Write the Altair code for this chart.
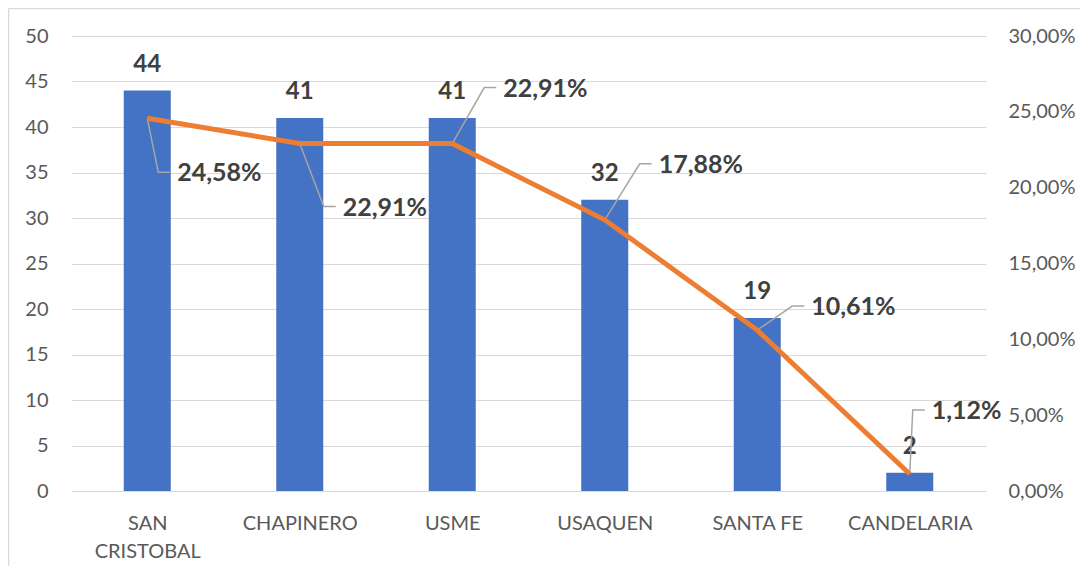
import json
import altair as alt
import pandas as pd

# ---- data ----
categories = ["SAN CRISTOBAL", "CHAPINERO", "USME", "USAQUEN", "SANTA FE", "CANDELARIA"]
axis_labels = [["SAN", "CRISTOBAL"], "CHAPINERO", "USME", "USAQUEN", "SANTA FE", "CANDELARIA"]
counts = [44, 41, 41, 32, 19, 2]
shares = [0.2458, 0.2291, 0.2291, 0.1788, 0.1061, 0.0112]
left_ticks = [0, 5, 10, 15, 20, 25, 30, 35, 40, 45, 50]
right_ticks = [0, 0.05, 0.10, 0.15, 0.20, 0.25, 0.30]

# ---- label leader styling (pixel offsets from the line point) ----
elbow_dx = [11, 24, 32, 35, 35, 3]
elbow_dy = [54, 63, -56, -56, -24, -64]
tail_px = 12
gap_px = 7

PW, PH = 915, 455
XU = PW / len(categories)          # px per category unit
YU = PH / 0.30                     # px per share unit

df = pd.DataFrame({"i": list(range(len(categories))), "cat": categories,
                   "n": counts, "p": shares})

leader_rows = []
label_rows = []
for k in range(len(categories)):
    x0, y0 = k, shares[k]
    xe = k + elbow_dx[k] / XU
    ye = shares[k] - elbow_dy[k] / YU
    xt = k + (elbow_dx[k] + tail_px) / XU
    leader_rows += [
        {"cat": categories[k], "o": 0, "lx": x0, "ly": y0},
        {"cat": categories[k], "o": 1, "lx": xe, "ly": ye},
        {"cat": categories[k], "o": 2, "lx": xt, "ly": ye},
    ]
    label_rows.append({"cat": categories[k], "p": shares[k],
                       "tx": k + (elbow_dx[k] + tail_px + gap_px) / XU,
                       "ty": shares[k] - (elbow_dy[k] + 1) / YU})
leaders = pd.DataFrame(leader_rows)
labels = pd.DataFrame(label_rows)

FONT = "Lato"
xscale = alt.Scale(domain=[-0.5, len(categories) - 0.5], nice=False, zero=False, padding=0)
lscale = alt.Scale(domain=[0, 50], nice=False, padding=0)
rscale = alt.Scale(domain=[0, 0.30], nice=False, padding=0)

x_label_expr = json.dumps(axis_labels) + "[datum.value]"

x_axis = alt.Axis(values=list(range(len(categories))), labelExpr=x_label_expr,
                  title=None, grid=False, ticks=False, domain=False,
                  labelPadding=22, labelLineHeight=28, labelFontSize=20,
                  labelAngle=0, labelBaseline="top")
left_axis = alt.Axis(values=left_ticks, title=None, grid=True, gridColor="#d9d9d9",
                     gridWidth=1.2, ticks=False, domain=False, labelPadding=23,
                     labelFontSize=20)
right_axis = alt.Axis(values=right_ticks, orient="right", title=None, grid=False,
                      ticks=False, domain=False, labelPadding=22, labelFontSize=20,
                      labelExpr="replace(format(datum.value, '.2%'), '.', ',')")

bars = alt.Chart(df).mark_bar(size=47, color="#4472C4").encode(
    x=alt.X("i:Q", scale=xscale, axis=x_axis),
    y=alt.Y("n:Q", scale=lscale, axis=left_axis),
)

bar_text = alt.Chart(df).mark_text(dy=-19, baseline="alphabetic", fontWeight="bold",
                                   fontSize=24, color="#404040", font=FONT).encode(
    x=alt.X("i:Q", scale=xscale, axis=x_axis),
    y=alt.Y("n:Q", scale=lscale, axis=left_axis),
    text="n:Q",
)

frame_top = alt.Chart(pd.DataFrame({"a": [0]})).mark_rule(
    color="#d9d9d9", strokeWidth=1.5).encode(
    x=alt.value(-62.5), x2=alt.value(1200), y=alt.value(-27.5))
frame_left = alt.Chart(pd.DataFrame({"a": [0]})).mark_rule(
    color="#d9d9d9", strokeWidth=1.5).encode(
    x=alt.value(-62.5), y=alt.value(-27.5), y2=alt.value(800))

line = alt.Chart(df).mark_line(color="#ED7D31", strokeWidth=5).encode(
    x=alt.X("i:Q", scale=xscale, axis=x_axis),
    y=alt.Y("p:Q", scale=rscale, axis=right_axis),
    order="i:Q",
)

leader_lines = alt.Chart(leaders).mark_line(color="#a6a6a6", strokeWidth=1.5).encode(
    x=alt.X("lx:Q", scale=xscale, axis=x_axis),
    y=alt.Y("ly:Q", scale=rscale, axis=right_axis),
    detail="cat:N",
    order="o:Q",
)

pct_text = alt.Chart(labels).transform_calculate(
    t="replace(format(datum.p, '.2%'), '.', ',')"
).mark_text(align="left", baseline="middle", fontWeight="bold", fontSize=25,
            color="#404040", font=FONT).encode(
    x=alt.X("tx:Q", scale=xscale, axis=x_axis),
    y=alt.Y("ty:Q", scale=rscale, axis=right_axis),
    text="t:N",
)

left = alt.layer(bars, bar_text)
right = alt.layer(leader_lines, line, pct_text, frame_top, frame_left)

chart = alt.layer(left, right).resolve_scale(y="independent").properties(
    width=PW, height=PH,
    padding={"left": 63, "top": 28, "right": 94, "bottom": 75},
    autosize=alt.AutoSizeParams(type="none"),
    background="white",
).configure_view(stroke=None).configure_axis(
    labelFont=FONT, labelColor="#595959"
)

chart.save("out.html", embed_options={"renderer": "svg", "actions": False})
